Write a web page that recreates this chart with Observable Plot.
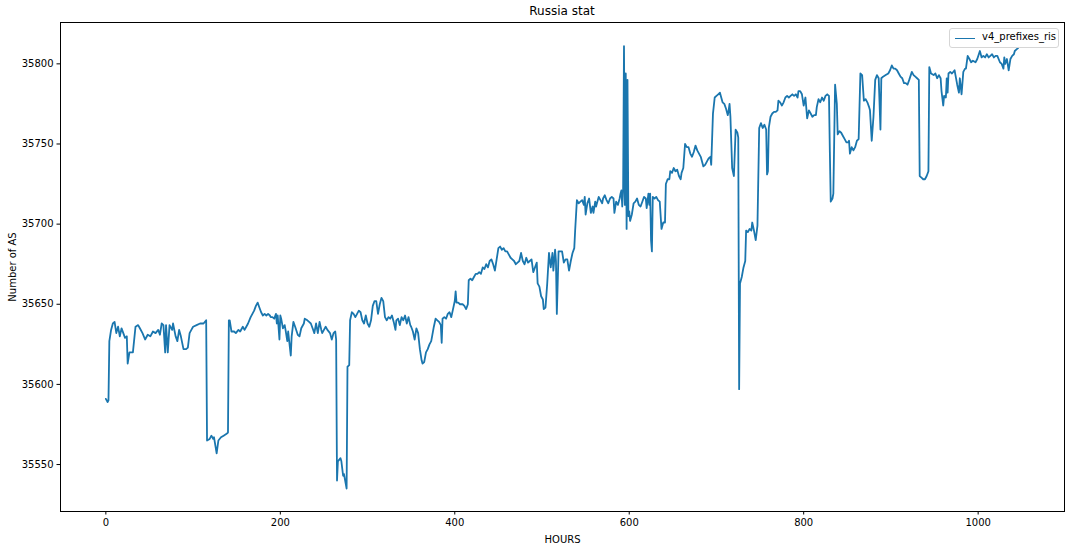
<!DOCTYPE html>
<html>
<head>
<meta charset="utf-8">
<script src="https://cdn.jsdelivr.net/npm/d3@7"></script>
<script src="https://cdn.jsdelivr.net/npm/@observablehq/plot@0.6"></script>
<style>
  html, body { margin: 0; padding: 0; background: #fff; }
  #wrap { position: relative; width: 1071px; height: 550px; font-family: "DejaVu Sans", sans-serif; }
  #title { position: absolute; top: 4px; left: 60px; width: 1004px; text-align: center; font-size: 12px; color: #000; }
  #legend { position: absolute; left: 949px; top: 28px; width: 108px; height: 18px; border: 1px solid #d6d6d6; border-radius: 3px; background: rgba(255,255,255,0.85); font-size: 10px; color: #000; }
  #legend .swatch { position: absolute; left: 5px; top: 8.5px; width: 20px; height: 0; border-top: 1.8px solid #1a76ae; }
  #legend .lab { position: absolute; left: 32px; top: 2px; white-space: nowrap; }
</style>
</head>
<body>
<div id="wrap">
  <div id="chart"></div>
  <div id="title">Russia stat</div>
  <div id="legend"><div class="swatch"></div><div class="lab">v4_prefixes_ris</div></div>
</div>
<script>
const seriesName = "v4_prefixes_ris";
const xTicks = [0, 200, 400, 600, 800, 1000];
const yTicks = [35550, 35600, 35650, 35700, 35750, 35800];

const hours = [
0,2,3,4,6,8,10,12,14,16,18,20,22,24,25,27,29,31,34,37,39,42,45,48,51,54,57,60,62,64,66,68,69,71,73,76,77,80,82,84,86,89,92,94,96,98,100,104,108,112,115,
116,119,121,123,124,127,129,132,135,138,140,
141,142,144,147,149,152,154,157,159,161,163,166,168,170,172,174,176,178,180,182,184,186,188,189,191,193,195,196,197,199,200,201,203,205,206,208,209,211,212,213,215,217,220,222,224,227,228,231,233,235,237,239,241,243,245,247,248,250,252,254,257,259,261,263,264,
265,266,269,270,272,273,276,277,279,
280,282,284,286,288,290,292,294,296,298,300,302,304,306,308,310,312,314,316,318,320,322,324,326,328,330,332,333,335,337,339,341,343,345,347,349,350,352,354,356,358,360,362,363,365,367,369,371,373,374,376,378,380,382,384,385,386,388,390,392,394,396,398,400,401,402,404,406,409,411,413,415,
416,418,420,422,424,426,428,430,432,434,436,438,440,442,444,446,448,450,452,454,456,458,460,462,464,466,468,470,472,474,476,478,480,482,484,486,488,490,492,494,495,497,499,501,502,504,506,508,510,512,513,515,516,517,519,521,523,525,527,529,531,533,535,537,538,
540,542,544,546,548,549,550,552,554,556,558,559,561,562,565,567,569,570,572,574,576,578,580,582,583,585,587,589,590,591,592,593,594,595,596,597,598,599,600,601,603,605,607,609,611,613,615,617,619,620,622,623,624,625,626,627,629,631,633,635,637,639,641,
642,644,646,647,649,651,653,655,657,659,660,662,664,666,668,670,672,674,676,678,680,682,683,685,687,689,691,693,694,
696,698,700,702,704,705,707,709,711,713,714,715,716,718,720,722,724,725,726,727,729,731,733,734,736,738,740,741,743,745,747,
749,751,753,755,757,758,759,760,762,764,766,768,770,771,773,775,777,779,781,783,785,787,789,791,793,794,796,798,800,802,804,806,808,810,812,814,815,817,819,821,823,825,827,829,830,831,833,834,836,838,839,841,843,845,847,849,851,852,853,855,857,859,861,863,
865,867,869,871,873,875,876,878,880,882,884,886,888,889,891,894,897,899,901,903,905,907,909,911,913,915,917,919,921,924,926,928,930,932,
933,935,937,939,941,943,944,946,949,951,953,955,957,958,960,961,963,964,965,966,968,970,973,974,976,978,979,981,983,985,986,988,990,992,994,997,999,1002,1004,1006,1008,1010,1012,1014,1016,1018,1020,1022,1025,1027,1029,1030,1031,1033,1035,1037,1039,1041,1042,1044,1046
];

const prefixes = [
35591,35589,35590,35627,35634,35638,35639,35632,35636,35630,35635,35632,35629,35630,35613,35620,35620,35620,35636,35637,35635,35632,35628,35631,35630,35633,35632,35634,35631,35638,35637,35620,35637,35620,35637,35634,35638,35630,35627,35634,35630,35622,35622,35623,35632,35634,35636,35637,35638,35638,35640,
35565,35566,35568,35566,35567,35557,35565,35567,35568,35569,35570,
35640,35640,35633,35633,35632,35634,35633,35636,35634,35636,35638,35642,35644,35646,35649,35651,35648,35645,35643,35644,35643,35644,35643,35642,35642,35641,35644,35638,35643,35628,35643,35641,35635,35637,35634,35627,35633,35623,35618,35630,35639,35636,35631,35630,35635,35638,35641,35640,35639,35638,35635,35632,35638,35632,35639,35634,35632,35634,35636,35634,35632,35628,35632,35633,35628,
35540,35552,35554,35552,35543,35544,35535,35611,35612,
35640,35645,35644,35642,35644,35646,35645,35640,35638,35643,35638,35636,35640,35649,35652,35652,35644,35650,35654,35652,35642,35640,35642,35641,35643,35639,35634,35640,35641,35637,35642,35640,35643,35638,35642,35637,35636,35633,35628,35635,35632,35622,35615,35613,35614,35620,35622,35625,35627,35630,35636,35641,35640,35639,35637,35626,35641,35642,35641,35644,35645,35642,35647,35652,35658,35651,35651,35650,35650,35649,35647,35650,
35665,35666,35665,35667,35669,35669,35670,35669,35673,35672,35675,35673,35677,35678,35675,35671,35678,35685,35686,35684,35685,35683,35683,35681,35679,35678,35677,35675,35676,35677,35682,35677,35675,35679,35676,35677,35678,35670,35673,35676,35663,35661,35655,35653,35647,35648,35663,35682,35673,35682,35671,35684,35677,35644,35683,35683,35683,35676,35678,35678,35671,35677,35682,35685,35696,
35715,35713,35714,35715,35712,35717,35706,35713,35716,35707,35711,35707,35714,35711,35717,35715,35713,35716,35718,35715,35713,35716,35717,35716,35707,35714,35712,35716,35719,35721,35711,35722,35811,35712,35794,35697,35790,35705,35708,35702,35706,35713,35714,35716,35712,35711,35714,35717,35716,35710,35719,35712,35719,35690,35683,35717,35716,35717,35715,35714,35697,35701,35701,
35725,35728,35728,35733,35732,35735,35733,35734,35730,35728,35732,35735,35750,35748,35748,35744,35742,35745,35749,35746,35744,35742,35740,35736,35737,35739,35741,35742,35737,
35769,35779,35780,35781,35782,35780,35776,35775,35772,35768,35771,35775,35767,35735,35730,35759,35757,35754,35597,35663,35667,35673,35677,35696,35695,35697,35696,35701,35696,35690,35699,
35760,35763,35760,35762,35759,35731,35733,35760,35767,35769,35770,35770,35771,35777,35776,35774,35776,35779,35780,35779,35780,35781,35780,35781,35779,35783,35783,35781,35774,35779,35766,35771,35769,35767,35768,35768,35773,35778,35776,35779,35777,35780,35781,35780,35745,35714,35716,35719,35787,35775,35756,35758,35757,35755,35753,35751,35751,35752,35744,35748,35746,35748,35752,35753,
35794,35793,35777,35778,35776,35773,35771,35752,35767,35790,35793,35791,35759,35791,35792,35793,35794,35796,35799,35797,35797,35796,35794,35792,35791,35788,35788,35787,35790,35795,35793,35792,35791,35790,
35730,35729,35728,35728,35730,35733,35798,35794,35793,35794,35791,35793,35791,35783,35774,35780,35779,35791,35782,35794,35795,35794,35796,35793,35787,35782,35791,35781,35795,35797,35797,35805,35803,35801,35802,35801,35803,35808,35804,35805,35804,35806,35804,35805,35806,35804,35805,35805,35801,35800,35797,35804,35800,35803,35796,35803,35805,35806,35808,35809,35810
];

const n = Math.min(hours.length, prefixes.length);
const rows = d3.range(n).map(i => ({hour: hours[i], value: prefixes[i], series: seriesName}));

const chart = Plot.plot({
  width: 1071,
  height: 550,
  marginLeft: 60,
  marginRight: 7,
  marginTop: 22,
  marginBottom: 39,
  style: {fontFamily: "DejaVu Sans", fontSize: "10px", color: "#000", background: "#fff", overflow: "visible"},
  x: {domain: [-52, 1099]},
  y: {domain: [35520.7, 35825.8]},
  marks: [
    Plot.axisX({ticks: xTicks, tickSize: 3.5, tickPadding: 3.5, tickFormat: d3.format("d"), label: "HOURS", labelAnchor: "center", labelOffset: 31, labelArrow: "none", stroke: "#000"}),
    Plot.axisY({ticks: yTicks, tickSize: 3.5, tickPadding: 3.5, tickFormat: d3.format("d"), label: "Number of AS", labelAnchor: "center", labelOffset: 52, labelArrow: "none", stroke: "#000"}),
    Plot.line(rows, {x: "hour", y: "value", stroke: "#1a76ae", strokeWidth: 1.8, strokeLinejoin: "round"}),
    Plot.frame({stroke: "#000", strokeWidth: 1})
  ]
});
document.getElementById("chart").appendChild(chart);
</script>
</body>
</html>
